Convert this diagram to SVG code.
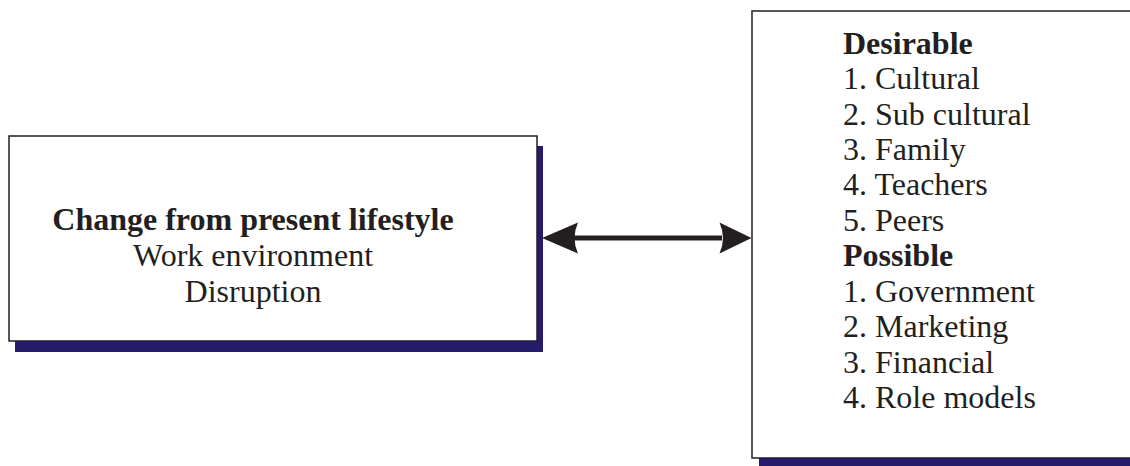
<svg xmlns="http://www.w3.org/2000/svg" width="1130" height="466" viewBox="0 0 1130 466">
  <style>
    .box { fill: #ffffff; stroke: #231f20; stroke-width: 1.5; }
    .shadow { fill: #261a6b; }
    .t { font-family: "Liberation Serif", "Times New Roman", serif; font-size: 32px; fill: #231f20; }
    .b { font-weight: bold; }
    .conn { stroke: #231f20; stroke-width: 5; fill: none; }
    .head { fill: #231f20; }
  </style>

  <!-- Left node: lifestyle change -->
  <g id="node-change">
    <rect class="shadow" x="15" y="146" width="528" height="206"/>
    <rect class="box" x="9" y="136" width="528" height="205"/>
    <text class="t b" x="253" y="230" text-anchor="middle">Change from present lifestyle</text>
    <text class="t" x="253" y="266" text-anchor="middle">Work environment</text>
    <text class="t" x="253" y="302" text-anchor="middle">Disruption</text>
  </g>

  <!-- Right node: desirable and possible influences -->
  <g id="node-influences">
    <rect class="shadow" x="759" y="458" width="380" height="12"/>
    <rect class="box" x="752" y="11" width="390" height="447"/>
    <text class="t b" x="843" y="53.5">Desirable</text>
    <text class="t" x="843" y="89">1. Cultural</text>
    <text class="t" x="843" y="124.5">2. Sub cultural</text>
    <text class="t" x="843" y="160">3. Family</text>
    <text class="t" x="843" y="195">4. Teachers</text>
    <text class="t" x="843" y="230.5">5. Peers</text>
    <text class="t b" x="843" y="266">Possible</text>
    <text class="t" x="843" y="301.5">1. Government</text>
    <text class="t" x="843" y="337">2. Marketing</text>
    <text class="t" x="843" y="372.5">3. Financial</text>
    <text class="t" x="843" y="407.5">4. Role models</text>
  </g>

  <!-- Two-way connector between the nodes -->
  <g id="connectors">
    <line class="conn" x1="574" y1="238" x2="722" y2="238"/>
    <path class="head" d="M542,238 L578,222.5 Q571,238 578,253.5 Z"/>
    <path class="head" d="M751.5,238 L719.5,222.5 Q726.5,238 719.5,253.5 Z"/>
  </g>
</svg>
